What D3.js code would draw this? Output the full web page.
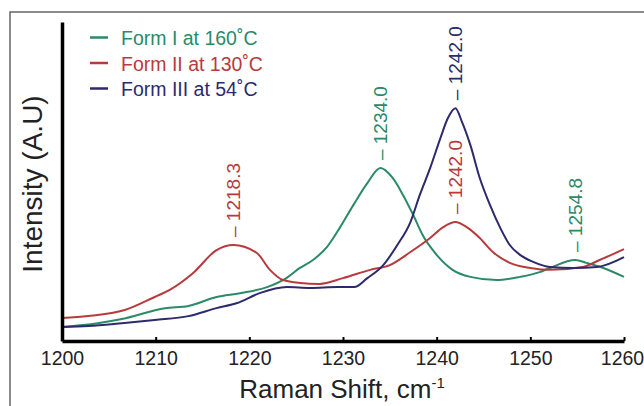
<!DOCTYPE html>
<html>
<head>
<meta charset="utf-8">
<script src="https://cdn.jsdelivr.net/npm/d3@7"></script>
<style>
  body { margin: 0; background: #fff; }
  text { font-family: "Liberation Sans", Arial, sans-serif; }
</style>
</head>
<body>
<svg id="chart"></svg>
<script>
// Raman spectra (shift in cm-1, intensity in arbitrary units 0-100)
const shiftI = [1200, 1203.8, 1206.4, 1211.0, 1213.5, 1216.5, 1219.0, 1221.9, 1224.0, 1225.4, 1226.8, 1228.3, 1229.7, 1231.1, 1232.6, 1234.0, 1235.3, 1236.4, 1237.5, 1238.5, 1240.0, 1241.7, 1243.6, 1246.4, 1248.9, 1251.0, 1252.1, 1254.8, 1256.0, 1257.8, 1260];
const formI  = [4.4, 5.6, 6.9, 10.3, 11.0, 13.8, 15.0, 16.9, 19.8, 22.9, 25.4, 29.5, 35.7, 42.6, 49.5, 54.2, 51.1, 45.8, 39.5, 33.2, 27.0, 22.3, 20.1, 19.1, 20.1, 21.6, 22.9, 25.4, 24.5, 22.9, 20.1];

const shiftII = [1200, 1202.8, 1206.7, 1209.9, 1211.5, 1214.0, 1216.5, 1218.3, 1220.8, 1222.2, 1223.6, 1225.4, 1227.5, 1230.0, 1232.9, 1235.0, 1237.2, 1239.3, 1240.7, 1242.0, 1243.2, 1244.6, 1246.0, 1247.8, 1250.0, 1252.1, 1255.6, 1257.4, 1260];
const formII  = [7.2, 7.8, 9.7, 13.8, 16.0, 21.3, 28.5, 30.1, 27.6, 22.3, 19.1, 18.2, 17.9, 19.7, 22.3, 23.8, 27.9, 32.3, 35.7, 37.3, 35.7, 32.3, 27.9, 24.5, 22.9, 22.3, 23.2, 25.4, 28.8];

const shiftIII = [1200, 1202.8, 1206.4, 1209.9, 1213.5, 1216.5, 1218.7, 1221.1, 1224.0, 1226.5, 1229.4, 1231.2, 1232.6, 1234.3, 1235.8, 1237.2, 1238.2, 1239.3, 1240.4, 1241.2, 1242.0, 1242.7, 1243.6, 1244.6, 1245.7, 1246.8, 1247.8, 1248.9, 1250.3, 1252.1, 1254.6, 1257.1, 1260];
const formIII  = [4.4, 4.7, 5.6, 6.6, 7.8, 10.3, 11.9, 15.0, 16.9, 16.6, 16.9, 16.9, 19.7, 23.8, 30.1, 37.3, 45.8, 54.2, 63.6, 69.9, 73.0, 68.7, 61.4, 51.1, 42.6, 35.4, 30.1, 27.0, 24.8, 23.2, 22.9, 23.2, 26.3];

const seriesNames = ["Form I at 160˚C", "Form II at 130˚C", "Form III at 54˚C"];
const seriesColors = ["#2b8a67", "#b73a3d", "#2c2a6c"];

// peak annotations: [series index, shift, intensity]
const peaks = [[1, 1218.3, 30.1], [0, 1234.0, 54.2], [2, 1242.0, 73.0], [1, 1242.0, 37.3], [0, 1254.8, 25.4]];

const xTicks = [1200, 1210, 1220, 1230, 1240, 1250, 1260];

const width = 644, height = 406;
const margin = {left: 62, right: 20, top: 22, bottom: 65};

const svg = d3.select("#chart")
    .attr("width", width)
    .attr("height", height);

// outer frame of the figure
svg.append("rect")
    .attr("x", 10).attr("y", 12)
    .attr("width", width).attr("height", height)
    .attr("fill", "none")
    .attr("stroke", "#666")
    .attr("stroke-width", 1.5);

const x = d3.scaleLinear().domain([1200, 1260]).range([margin.left, width - margin.right]);
const y = d3.scaleLinear().domain([0, 100]).range([height - margin.bottom, margin.top]);

const line = d3.line()
    .x(d => x(d[0]))
    .y(d => y(d[1]))
    .curve(d3.curveMonotoneX);

const series = [
    d3.zip(shiftI, formI),
    d3.zip(shiftII, formII),
    d3.zip(shiftIII, formIII)
];

svg.selectAll("path.spectrum")
    .data(series)
    .enter()
    .append("path")
    .attr("class", "spectrum")
    .attr("d", line)
    .attr("fill", "none")
    .attr("stroke", (d, i) => seriesColors[i])
    .attr("stroke-width", 2);

// axes
const xAxis = svg.append("g")
    .attr("transform", `translate(0,${y(0)})`)
    .call(d3.axisBottom(x).tickValues(xTicks).tickFormat(d3.format("d")).tickSizeInner(-4).tickSizeOuter(0).tickPadding(10));
xAxis.select(".domain").attr("stroke", "#000").attr("stroke-width", 3.5);
xAxis.selectAll(".tick line").attr("stroke", "#000").attr("stroke-width", 2);
xAxis.selectAll(".tick text")
    .attr("font-size", 19.5)
    .attr("fill", "#222")
    .attr("dx", d => d === 1260 ? -2 : 0)
    .style("font-family", "'Liberation Sans', Arial, sans-serif");

const yAxis = svg.append("g")
    .attr("transform", `translate(${x(1200)},0)`)
    .call(d3.axisLeft(y).tickValues([]).tickSizeOuter(0));
yAxis.select(".domain").attr("stroke", "#000").attr("stroke-width", 3.5);

// axis titles
const xTitle = svg.append("text")
    .attr("x", 342)
    .attr("y", 398)
    .attr("text-anchor", "middle")
    .attr("font-size", 26)
    .attr("fill", "#222");
xTitle.append("tspan").text("Raman Shift, cm");
xTitle.append("tspan").attr("font-size", 15).attr("dy", -10).text("-1");

svg.append("text")
    .attr("transform", "translate(42,184) rotate(-90)")
    .attr("text-anchor", "middle")
    .attr("font-size", 28)
    .attr("fill", "#222")
    .text("Intensity (A.U)");

// peak labels
svg.selectAll("text.peak")
    .data(peaks)
    .enter()
    .append("text")
    .attr("class", "peak")
    .attr("transform", d => `translate(${x(d[1])},${y(d[2]) - 8}) rotate(-90)`)
    .attr("dy", "0.35em")
    .attr("font-size", 19)
    .attr("fill", d => seriesColors[d[0]])
    .text(d => "– " + d3.format(".1f")(d[1]));

// legend
const legend = svg.selectAll("g.legend")
    .data(seriesNames)
    .enter()
    .append("g")
    .attr("class", "legend")
    .attr("transform", (d, i) => `translate(90,${45 + i * 25.5})`);

legend.append("line")
    .attr("x1", 0).attr("x2", 18)
    .attr("y1", -7.5).attr("y2", -7.5)
    .attr("stroke", (d, i) => seriesColors[i])
    .attr("stroke-width", 2.5);

legend.append("text")
    .attr("x", 31)
    .attr("font-size", 19.5)
    .attr("fill", (d, i) => seriesColors[i])
    .text(d => d);
</script>
</body>
</html>
